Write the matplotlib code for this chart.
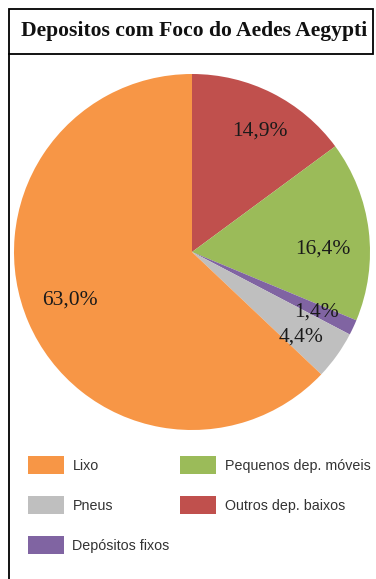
import matplotlib
matplotlib.use("Agg")
import matplotlib.pyplot as plt
from matplotlib.patches import Rectangle
from matplotlib.lines import Line2D

# dados (sentido horario a partir das 12h)
categorias = ["Outros dep. baixos", "Pequenos dep. móveis", "Depósitos fixos", "Pneus", "Lixo"]
valores = [14.9, 16.4, 1.4, 4.4, 63.0]
rotulos = ["14,9%", "16,4%", "1,4%", "4,4%", "63,0%"]
cores = ["#C0504D", "#9BBB59", "#8064A2", "#BFBFBF", "#F79646"]

# ordem da legenda
ordem_legenda = ["Lixo", "Pneus", "Depósitos fixos", "Pequenos dep. móveis", "Outros dep. baixos"]

W, H = 376, 579
fig = plt.figure(figsize=(W / 100, H / 100), dpi=100)

# pizza: centro (192, 252) px, raio 178 px
cx, cy, r = 192, 252, 178
ax = fig.add_axes([(cx - r) / W, (H - cy - r) / H, 2 * r / W, 2 * r / H])
fatias, textos = ax.pie(valores, labels=rotulos, colors=cores, startangle=90,
                        counterclock=False, labeldistance=0.76, radius=1,
                        wedgeprops=dict(linewidth=0))

# pequenos ajustes (px) dos rotulos, como no original
ajustes = [(7, 0), (-3, 13), (2, 3), (-1, 6), (2, -5)]
for t, (dx, dy) in zip(textos, ajustes):
    x, y = t.get_position()
    t.set_position((x + dx / r, y - dy / r))
    t.set_ha("center")
    t.set_va("center")
    t.set_fontfamily("Liberation Serif")
    t.set_fontsize(15.5)
    t.set_color("#1a1a1a")
ax.set_xlim(-1, 1)
ax.set_ylim(-1, 1)
ax.set_aspect("equal")
ax.axis("off")

# moldura do titulo
fig.add_artist(Rectangle((9 / W, 1 - 54 / H), (373 - 9) / W, 45 / H, transform=fig.transFigure,
                         fill=False, edgecolor="black", linewidth=1.3))
fig.add_artist(Line2D([9 / W, 9 / W], [0, 1 - 54 / H], transform=fig.transFigure,
                      color="black", linewidth=1.3))
fig.text(194 / W, 1 - 31 / H, "Depositos com Foco do Aedes Aegypti", ha="center", va="center",
         fontfamily="Liberation Serif", fontweight="bold", fontsize=15.6, color="#111111")

# legenda
mapa = dict(zip(categorias, fatias))
handles = [Rectangle((0, 0), 1, 1, facecolor=mapa[c].get_facecolor(), edgecolor="none")
           for c in ordem_legenda]
leg = fig.legend(handles, ordem_legenda, loc="upper left", bbox_to_anchor=(21 / W, 1 - 449 / H),
                 ncol=2, frameon=False, borderpad=0, handlelength=2.5, handleheight=1.55,
                 handletextpad=0.6, labelspacing=1.55, columnspacing=0.75,
                 prop=dict(family="Liberation Sans", size=10.3))
for t in leg.get_texts():
    t.set_color("#333333")

fig.savefig("out.png", dpi=100)
